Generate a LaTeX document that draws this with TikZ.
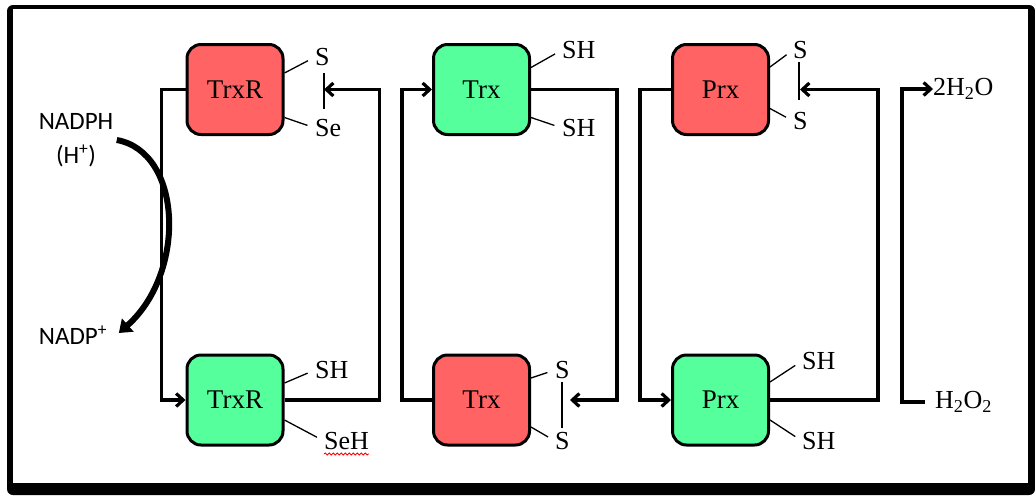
\documentclass[tikz,border=0pt]{standalone}
\usepackage{fontspec}
\setmainfont{Liberation Serif}
\newfontfamily\nadpfont{Carlito}
\usepackage{tikz}
\usetikzlibrary{shapes,arrows.meta,decorations.pathmorphing}
\usepackage{xcolor}
\definecolor{oxfill}{RGB}{255,99,99}
\definecolor{redfill}{RGB}{85,255,155}
\tikzstyle{enzox} = [rectangle, rounded corners=14pt, minimum width=96pt, minimum height=90pt, text centered, draw=black, line width=3pt, fill=oxfill, font=\fontsize{27}{30}\selectfont]
\tikzstyle{enzred} = [enzox, fill=redfill]
\tikzstyle{group} = [inner sep=0pt, anchor=west, font=\fontsize{26}{30}\selectfont]
\tikzstyle{cofactor} = [font=\nadpfont\fontsize{25}{34}\selectfont, align=center]
\tikzstyle{bond} = [line width=1.3pt, shorten >=8pt]
\tikzstyle{bar} = [line width=1.6pt]
\tikzstyle{arrow} = [line width=3.2pt,->,>={Straight Barb[length=7pt,width=13pt]}]
\tikzstyle{nadarrow} = [line width=6pt,-{Triangle[length=12pt,width=17pt]}]

\begin{document}
\begin{tikzpicture}[x=1pt, y=-1pt, node distance=310.5pt]
    \useasboundingbox (0,0) rectangle (1035,496);
    % frame
    \fill [black, rounded corners=6pt] (7,5) rectangle (1035,495);
    \fill [white] (13,9) rectangle (1028,483);

    \node (trxrox) [enzox] at (235,89.5) {TrxR};
    \node (trxrred) [enzred, below of=trxrox] {TrxR};
    \node (trxred) [enzred] at (481.5,89.5) {Trx};
    \node (trxox) [enzox, below of=trxred] {Trx};
    \node (prxox) [enzox] at (720.5,89.5) {Prx};
    \node (prxred) [enzred, below of=prxox] {Prx};

    % S / SH groups
    \node (trxrS) [group] at (315,57) {S};
    \node (trxrSe) [group] at (315,128) {Se};
    \node (trxrSH) [group] at (315,370) {SH};
    \node (trxrSeH) [group] at (324,441) {SeH};
    \node (trxSHa) [group] at (562,50) {SH};
    \node (trxSHb) [group] at (562,128) {SH};
    \node (trxSa) [group] at (555,370) {S};
    \node (trxSb) [group] at (555,441) {S};
    \node (prxSa) [group] at (793,50) {S};
    \node (prxSb) [group] at (793,121) {S};
    \node (prxSHa) [group] at (802,361) {SH};
    \node (prxSHb) [group] at (802,441) {SH};

    \node (h2o) [group] at (933,89) {2H\textsubscript{2}O};
    \node (h2o2) [group] at (935,402) {H\textsubscript{2}O\textsubscript{2}};

    \node (nadph) [cofactor] at (76,140) {NADPH\\(H\textsuperscript{+})};
    \node (nadp) [cofactor] at (73,335) {NADP\textsuperscript{+}};

    \coordinate (trxrtip) at (324,89.5);
    \coordinate (trxtip) at (570,400);
    \coordinate (prxtip) at (800,89.5);

    \draw [bond] ([yshift=16.5pt]trxrox.east) -- (trxrS.west);
    \draw [bond] ([yshift=-28pt]trxrox.east) -- (trxrSe.west);
    \draw [bond] ([yshift=17pt]trxrred.east) -- (trxrSH.west);
    \draw [bond] ([yshift=-20pt]trxrred.east) -- (trxrSeH.west);
    \draw [bond] ([yshift=22pt]trxred.east) -- (trxSHa.west);
    \draw [bond] ([yshift=-28pt]trxred.east) -- (trxSHb.west);
    \draw [bond] ([yshift=22pt]trxox.east) -- (trxSa.west);
    \draw [bond] ([yshift=-27pt]trxox.east) -- (trxSb.west);
    \draw [bond] ([yshift=22.5pt]prxox.east) -- (prxSa.west);
    \draw [bond] ([yshift=-19pt]prxox.east) -- (prxSb.west);
    \draw [bond] ([yshift=18pt]prxred.east) -- (prxSHa.west);
    \draw [bond] ([yshift=-20pt]prxred.east) -- (prxSHb.west);

    \draw [bar] ([yshift=16.5pt]trxrtip) -- ([yshift=-19.5pt]trxrtip);
    \draw [bar] ([xshift=-8pt,yshift=18pt]trxtip) -- ([xshift=-8pt,yshift=-28pt]trxtip);
    \draw [bar] ([xshift=-1pt,yshift=27.5pt]prxtip) -- ([xshift=-1pt,yshift=-10.5pt]prxtip);

    \draw [red, line width=0.8pt, decorate, decoration={snake, amplitude=1pt, segment length=4pt}] ([yshift=-4pt]trxrSeH.south west) -- ([yshift=-4pt]trxrSeH.south east);

    \draw [arrow] (trxrox.west) -- ++(-24,0) |- (trxrred.west);
    \draw [arrow] (trxrred.east) -- ++(95,0) |- (trxrtip);
    \draw [arrow] (trxox.west) -- ++(-30,0) |- (trxred.west);
    \draw [arrow] (trxred.east) -- ++(86,0) |- (trxtip);
    \draw [arrow] (prxox.west) -- ++(-31,0) |- (prxred.west);
    \draw [arrow] (prxred.east) -- ++(108,0) |- (prxtip);
    \draw [arrow, shorten <=10pt] (h2o2.west) -- ++(-33,0) |- (h2o.west);

    \draw [nadarrow, shorten >=3pt] (nadph.east) .. controls +(66,12) and +(70,-62) .. ([xshift=6pt]nadp.east);
\end{tikzpicture}
\end{document}
